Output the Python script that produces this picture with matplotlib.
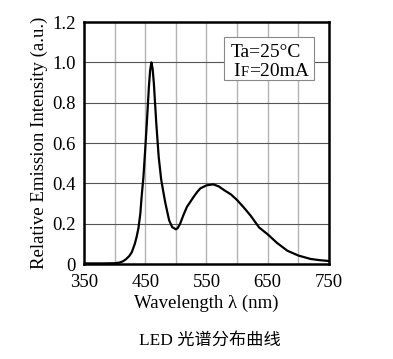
import matplotlib.pyplot as plt
from matplotlib.patches import Rectangle

# spectrum
wavelength = [350, 380, 400, 408, 414, 419, 424, 428, 433, 436, 439, 442, 444, 447, 450,
              453, 456, 458, 460, 462, 464, 466, 468, 472, 476, 480, 483, 489, 494,
              500, 503, 507, 512, 518, 524, 529, 535, 540, 550, 561, 570, 578, 590,
              600, 611, 622, 636, 650, 665, 682, 700, 720, 735, 750]
intensity = [0.003, 0.003, 0.004, 0.007, 0.014, 0.025, 0.04, 0.058, 0.1, 0.135, 0.18, 0.25,
             0.33, 0.43, 0.57, 0.72, 0.88, 0.96, 1.0, 0.97, 0.9, 0.8, 0.7, 0.53, 0.42,
             0.35, 0.3, 0.217, 0.183, 0.172, 0.178, 0.2, 0.24, 0.283, 0.31, 0.333, 0.358,
             0.375, 0.39, 0.395, 0.385, 0.368, 0.345, 0.317, 0.28, 0.24, 0.181, 0.147,
             0.105, 0.066, 0.042, 0.025, 0.019, 0.015]
x_ticks = [350, 450, 550, 650, 750]
y_ticks = [0, 0.2, 0.4, 0.6, 0.8, 1.0, 1.2]
y_tick_labels = ["0", "0.2", "0.4", "0.6", "0.8", "1.0", "1.2"]

serif = "Liberation Serif"

fig = plt.figure(figsize=(3.93, 3.59), dpi=100)
ax = fig.add_axes([0.2137, 0.2646, 0.6234, 0.674])

for x in range(400, 750, 50):
    ax.axvline(x, color="#b4b4b4", lw=1.0, zorder=1)
for y in [0.2, 0.4, 0.6, 0.8, 1.0]:
    ax.axhline(y, color="#555555", lw=0.8, zorder=1)

ax.plot(wavelength, intensity, color="black", lw=1.6, zorder=3)

ax.set_xlim(350, 750)
ax.set_ylim(0, 1.2)
ax.set_xticks(x_ticks)
ax.set_yticks(y_ticks)
ax.set_yticklabels(y_tick_labels)
ax.tick_params(length=0, labelsize=13.5)
ax.tick_params(axis="x", pad=7)
ax.tick_params(axis="y", pad=6)
for lab in ax.get_xticklabels() + ax.get_yticklabels():
    lab.set_fontfamily(serif)
for s in ax.spines.values():
    s.set_linewidth(1.8)

ax.set_xlabel("Wavelength λ (nm)", fontfamily=serif, fontsize=13.5, labelpad=3)
ax.set_ylabel("Relative Emission Intensity (a.u.)", fontfamily=serif, fontsize=13.5, labelpad=3)

# condition box
ax.add_patch(Rectangle((0.571, 0.76), 0.368, 0.178, transform=ax.transAxes,
                       facecolor="white", edgecolor="#888888", lw=0.8, zorder=4))
ax.text(0.6, 0.855, "Ta=25°C", transform=ax.transAxes,
        fontfamily=serif, fontsize=14, zorder=5)
ax.text(0.61, 0.777, "I", transform=ax.transAxes, fontfamily=serif, fontsize=14, zorder=5)
ax.text(0.638, 0.777, "F", transform=ax.transAxes, fontfamily=serif, fontsize=10.5, zorder=5)
ax.text(0.672, 0.777, "=20mA", transform=ax.transAxes, fontfamily=serif, fontsize=14, zorder=5)

fig.text(0.535, 0.04, "LED 光谱分布曲线", ha="center",
         fontfamily=[serif, "Noto Sans CJK SC"], fontsize=12.4)

fig.savefig("out.png", dpi=100)
